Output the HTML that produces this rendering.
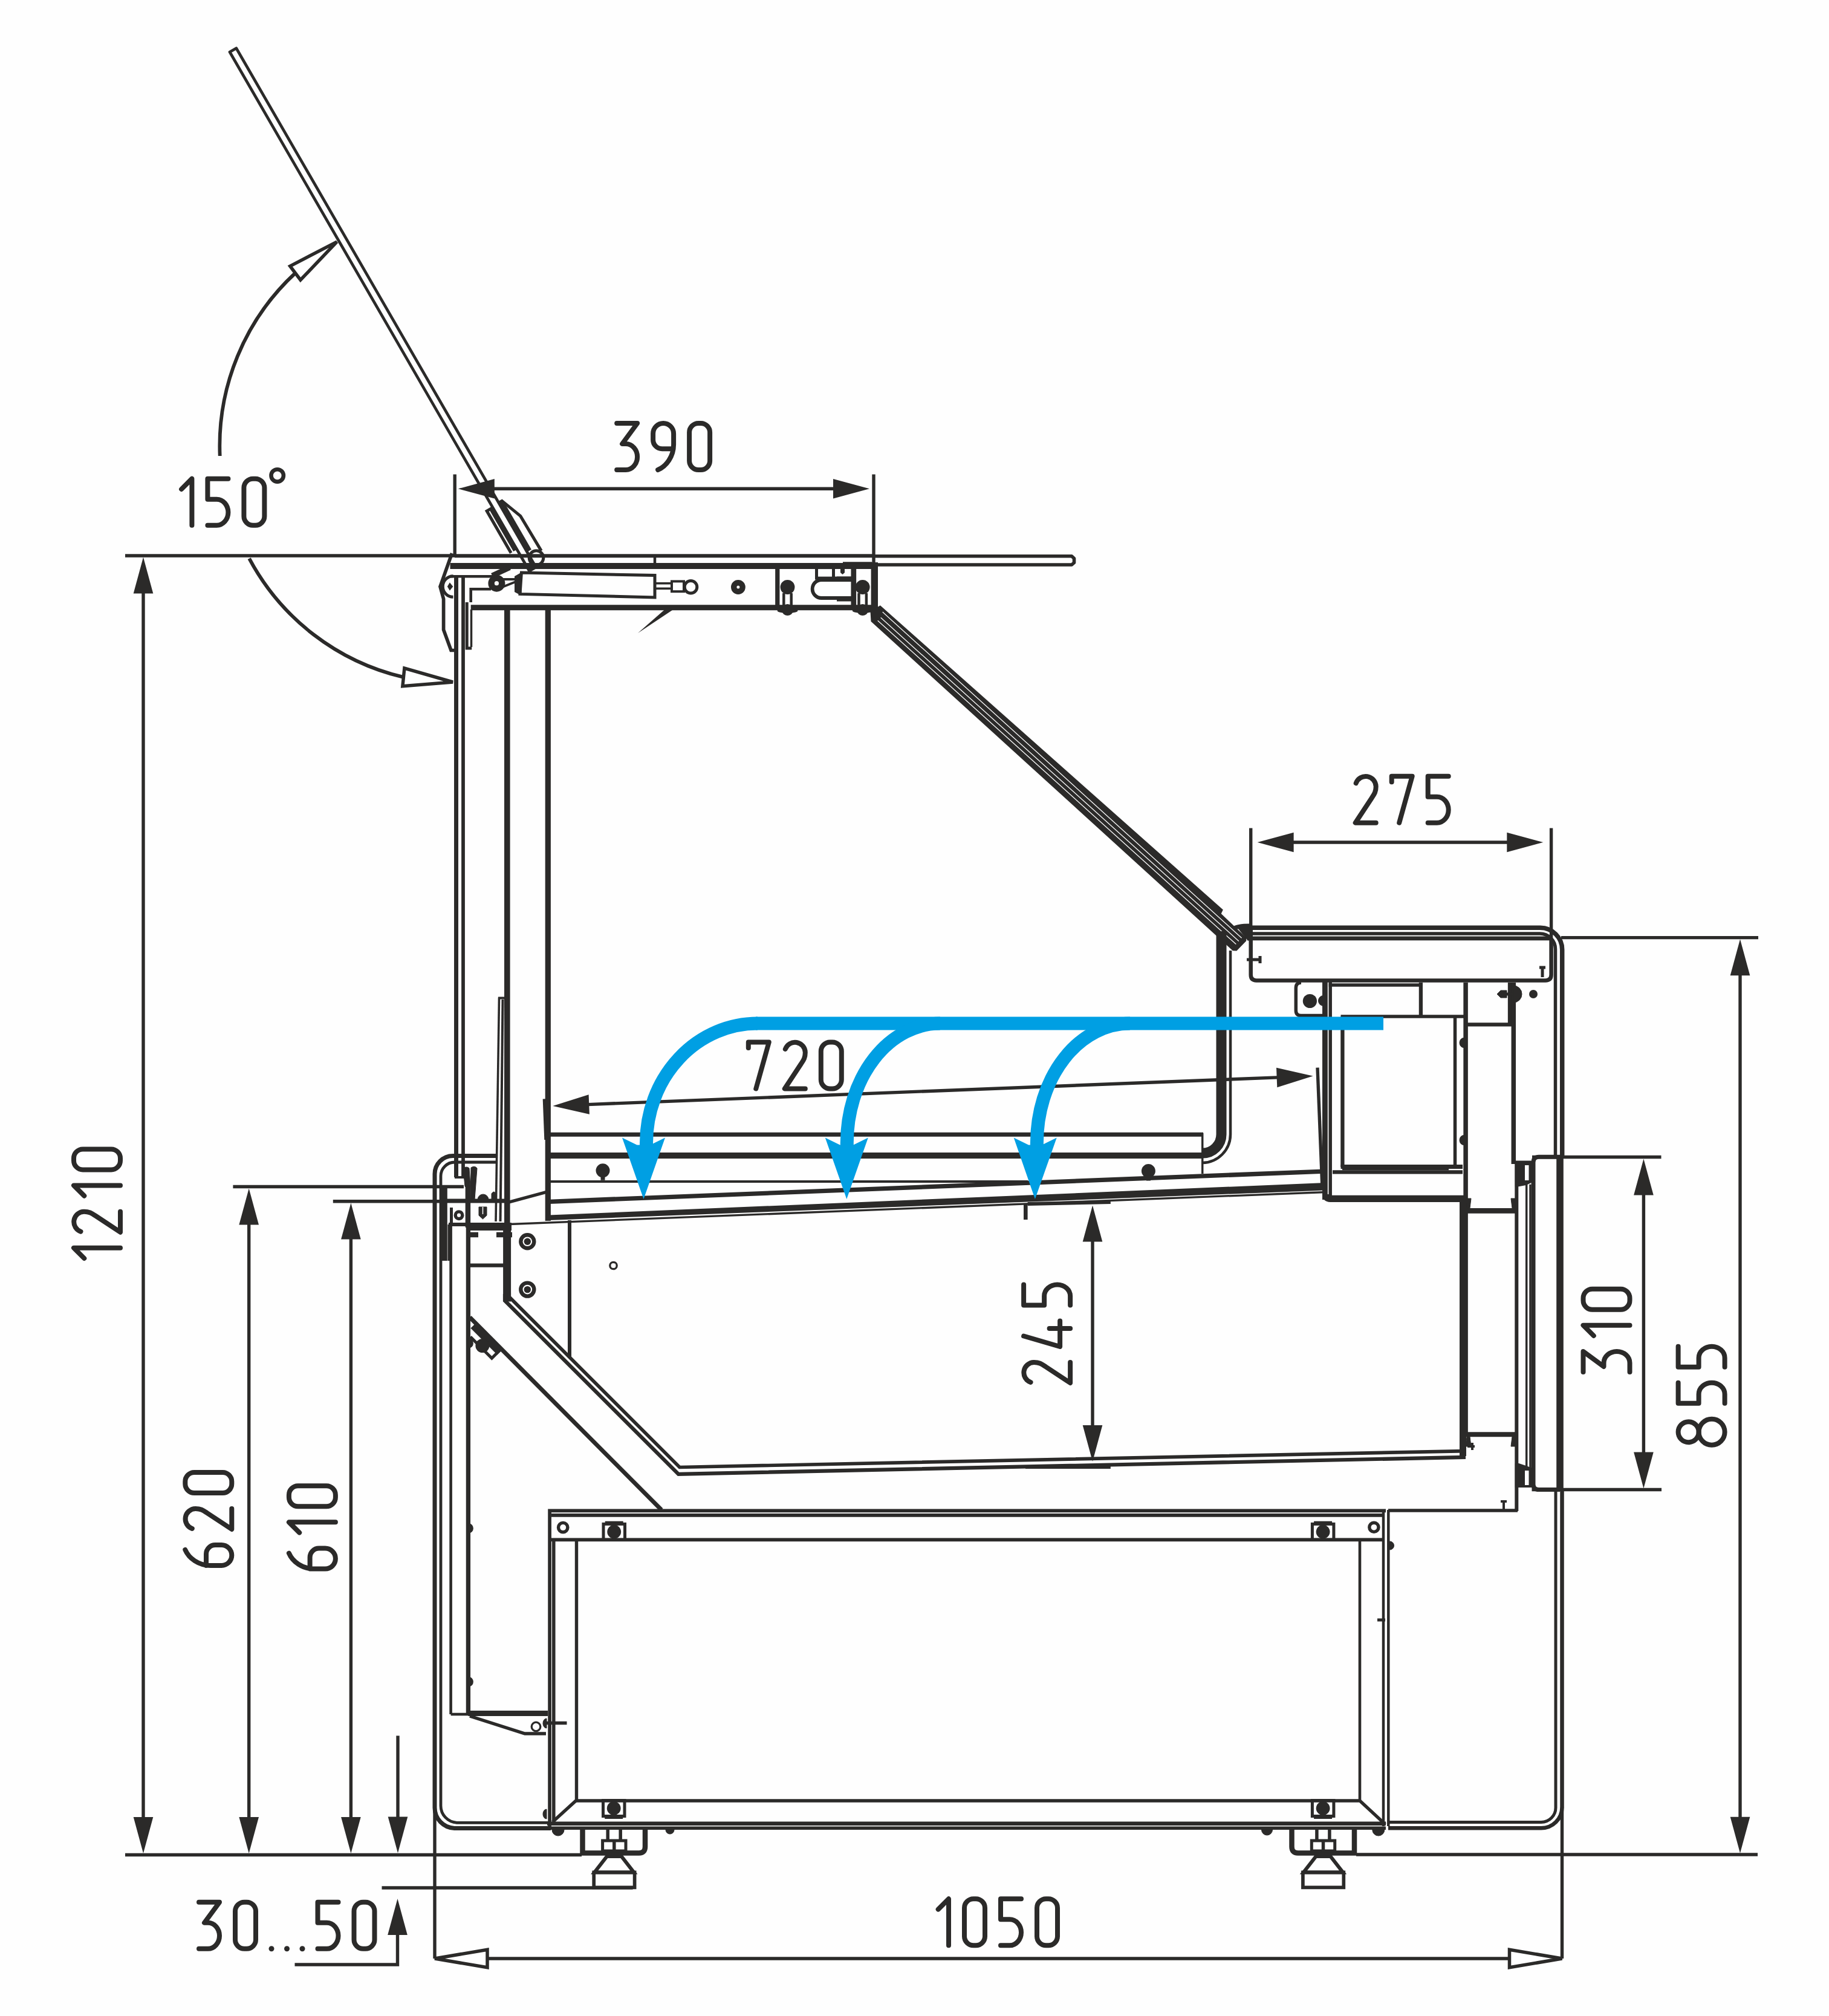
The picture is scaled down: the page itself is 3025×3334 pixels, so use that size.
<!DOCTYPE html>
<html><head><meta charset="utf-8"><title>Section</title>
<style>html,body{margin:0;padding:0;background:#fff;font-family:"Liberation Sans",sans-serif}svg{display:block}</style>
</head><body>
<svg width="3025" height="3334" viewBox="0 0 3025 3334">
<rect x="0" y="0" width="3025" height="3334" fill="#fefefe"/>
<line x1="207" y1="919" x2="752" y2="919" stroke="#2b2a29" stroke-width="5.4" stroke-linecap="butt"/>
<line x1="237" y1="975" x2="237" y2="3010" stroke="#2b2a29" stroke-width="5.4" stroke-linecap="butt"/>
<polygon points="237.0,921.5 253.3,981.5 220.7,981.5" fill="#2b2a29" stroke="#2b2a29" stroke-width="0" stroke-linejoin="miter"/>
<polygon points="237.0,3065.0 220.7,3005.0 253.3,3005.0" fill="#2b2a29" stroke="#2b2a29" stroke-width="0" stroke-linejoin="miter"/>
<g transform="translate(122 2081) rotate(-90)" fill="none" stroke="#2b2a29" stroke-width="8" stroke-linecap="round" stroke-linejoin="round">
<g transform="translate(0.0 0)"><path d="M0 17.3 L17.3 0 V77"/></g>
<g transform="translate(43.3 0)"><path d="M1 11.5 A17 17 0 0 1 34 17 C34 26 31 30 27 36 L0 77 H34"/></g>
<g transform="translate(103.3 0)"><path d="M0 17.3 L17.3 0 V77"/></g>
<g transform="translate(146.6 0)"><rect x="0" y="0" width="34" height="77" rx="15" ry="15"/></g>
</g>
<line x1="207" y1="3067.5" x2="962" y2="3067.5" stroke="#2b2a29" stroke-width="5.4" stroke-linecap="butt"/>
<line x1="2243" y1="3067" x2="2907" y2="3067" stroke="#2b2a29" stroke-width="5.4" stroke-linecap="butt"/>
<line x1="385.4" y1="1962.5" x2="767" y2="1962.5" stroke="#2b2a29" stroke-width="5.4" stroke-linecap="butt"/>
<line x1="411.7" y1="2020" x2="411.7" y2="3010" stroke="#2b2a29" stroke-width="5.4" stroke-linecap="butt"/>
<polygon points="411.7,1965.4 428.0,2025.4 395.4,2025.4" fill="#2b2a29" stroke="#2b2a29" stroke-width="0" stroke-linejoin="miter"/>
<polygon points="411.7,3065.0 395.4,3005.0 428.0,3005.0" fill="#2b2a29" stroke="#2b2a29" stroke-width="0" stroke-linejoin="miter"/>
<g transform="translate(306.3 2589) rotate(-90)" fill="none" stroke="#2b2a29" stroke-width="8" stroke-linecap="round" stroke-linejoin="round">
<g transform="translate(0.0 0)"><path d="M26 0 C12 6 0 22 0 42 V60 A17 17 0 0 0 34 60 V50 A15 15 0 0 0 19 34.7 H0"/></g>
<g transform="translate(60.0 0)"><path d="M1 11.5 A17 17 0 0 1 34 17 C34 26 31 30 27 36 L0 77 H34"/></g>
<g transform="translate(120.0 0)"><rect x="0" y="0" width="34" height="77" rx="15" ry="15"/></g>
</g>
<line x1="550.8" y1="1986.7" x2="730" y2="1986.7" stroke="#2b2a29" stroke-width="5.4" stroke-linecap="butt"/>
<line x1="580.4" y1="2045" x2="580.4" y2="3010" stroke="#2b2a29" stroke-width="5.4" stroke-linecap="butt"/>
<polygon points="580.4,1989.6 596.7,2049.6 564.1,2049.6" fill="#2b2a29" stroke="#2b2a29" stroke-width="0" stroke-linejoin="miter"/>
<polygon points="580.4,3065.0 564.1,3005.0 596.7,3005.0" fill="#2b2a29" stroke="#2b2a29" stroke-width="0" stroke-linejoin="miter"/>
<g transform="translate(477.9 2594.6) rotate(-90)" fill="none" stroke="#2b2a29" stroke-width="8" stroke-linecap="round" stroke-linejoin="round">
<g transform="translate(0.0 0)"><path d="M26 0 C12 6 0 22 0 42 V60 A17 17 0 0 0 34 60 V50 A15 15 0 0 0 19 34.7 H0"/></g>
<g transform="translate(60.0 0)"><path d="M0 17.3 L17.3 0 V77"/></g>
<g transform="translate(103.3 0)"><rect x="0" y="0" width="34" height="77" rx="15" ry="15"/></g>
</g>
<line x1="658" y1="2870.4" x2="658" y2="3010" stroke="#2b2a29" stroke-width="5.4" stroke-linecap="butt"/>
<polygon points="658.0,3064.5 641.7,3004.5 674.3,3004.5" fill="#2b2a29" stroke="#2b2a29" stroke-width="0" stroke-linejoin="miter"/>
<line x1="631.5" y1="3122" x2="1046.6" y2="3122" stroke="#2b2a29" stroke-width="5.4" stroke-linecap="butt"/>
<polygon points="657.5,3140.0 673.8,3200.0 641.2,3200.0" fill="#2b2a29" stroke="#2b2a29" stroke-width="0" stroke-linejoin="miter"/>
<path d="M657.5 3195 V3249 H487.5" stroke="#2b2a29" stroke-width="5.4" fill="none" stroke-linejoin="miter" stroke-linecap="butt"/>
<g transform="translate(329 3145.8) rotate(0)" fill="none" stroke="#2b2a29" stroke-width="8" stroke-linecap="round" stroke-linejoin="round">
<g transform="translate(0.0 0)"><path d="M0 0 H34 L9 34 H15 A19 21.5 0 0 1 15 77 H0"/></g>
<g transform="translate(60.0 0)"><rect x="0" y="0" width="34" height="77" rx="15" ry="15"/></g>
<circle cx="120.0" cy="77" r="4.5" fill="#2b2a29" stroke="none"/>
<circle cx="145.5" cy="77" r="4.5" fill="#2b2a29" stroke="none"/>
<circle cx="171.0" cy="77" r="4.5" fill="#2b2a29" stroke="none"/>
<g transform="translate(196.5 0)"><path d="M34 0 H0 V34 H15 A19 21.5 0 0 1 15 77 H0"/></g>
<g transform="translate(256.5 0)"><rect x="0" y="0" width="34" height="77" rx="15" ry="15"/></g>
</g>
<line x1="719" y1="2991" x2="719" y2="3239" stroke="#2b2a29" stroke-width="5.4" stroke-linecap="butt"/>
<line x1="2583.5" y1="2988" x2="2583.5" y2="3239" stroke="#2b2a29" stroke-width="5.4" stroke-linecap="butt"/>
<line x1="807" y1="3239" x2="2495" y2="3239" stroke="#2b2a29" stroke-width="5.4" stroke-linecap="butt"/>
<polygon points="719.0,3239.0 806.0,3224.2 806.0,3253.8" fill="#fff" stroke="#2b2a29" stroke-width="5.5" stroke-linejoin="miter"/>
<polygon points="2583.5,3239.0 2496.5,3253.8 2496.5,3224.2" fill="#fff" stroke="#2b2a29" stroke-width="5.5" stroke-linejoin="miter"/>
<g transform="translate(1551.7 3140.3) rotate(0)" fill="none" stroke="#2b2a29" stroke-width="8" stroke-linecap="round" stroke-linejoin="round">
<g transform="translate(0.0 0)"><path d="M0 17.3 L17.3 0 V77"/></g>
<g transform="translate(43.3 0)"><rect x="0" y="0" width="34" height="77" rx="15" ry="15"/></g>
<g transform="translate(103.3 0)"><path d="M34 0 H0 V34 H15 A19 21.5 0 0 1 15 77 H0"/></g>
<g transform="translate(163.3 0)"><rect x="0" y="0" width="34" height="77" rx="15" ry="15"/></g>
</g>
<line x1="2582" y1="1550.6" x2="2908" y2="1550.6" stroke="#2b2a29" stroke-width="5.4" stroke-linecap="butt"/>
<line x1="2878" y1="1610" x2="2878" y2="3008" stroke="#2b2a29" stroke-width="5.4" stroke-linecap="butt"/>
<polygon points="2878.0,1553.3 2894.3,1613.3 2861.7,1613.3" fill="#2b2a29" stroke="#2b2a29" stroke-width="0" stroke-linejoin="miter"/>
<polygon points="2878.0,3064.7 2861.7,3004.7 2894.3,3004.7" fill="#2b2a29" stroke="#2b2a29" stroke-width="0" stroke-linejoin="miter"/>
<g transform="translate(2775.6 2389.7) rotate(-90)" fill="none" stroke="#2b2a29" stroke-width="8" stroke-linecap="round" stroke-linejoin="round">
<g transform="translate(0.0 0)"><circle cx="21.5" cy="17" r="17"/><circle cx="21.5" cy="55.5" r="21.5"/></g>
<g transform="translate(69.0 0)"><path d="M34 0 H0 V34 H15 A19 21.5 0 0 1 15 77 H0"/></g>
<g transform="translate(129.0 0)"><path d="M34 0 H0 V34 H15 A19 21.5 0 0 1 15 77 H0"/></g>
</g>
<line x1="2534" y1="1913.5" x2="2747.5" y2="1913.5" stroke="#2b2a29" stroke-width="5.4" stroke-linecap="butt"/>
<line x1="2533.5" y1="2463.5" x2="2748" y2="2463.5" stroke="#2b2a29" stroke-width="5.4" stroke-linecap="butt"/>
<line x1="2718.4" y1="1972" x2="2718.4" y2="2405" stroke="#2b2a29" stroke-width="5.4" stroke-linecap="butt"/>
<polygon points="2718.4,1916.4 2734.7,1976.4 2702.1,1976.4" fill="#2b2a29" stroke="#2b2a29" stroke-width="0" stroke-linejoin="miter"/>
<polygon points="2718.4,2461.6 2702.1,2401.6 2734.7,2401.6" fill="#2b2a29" stroke="#2b2a29" stroke-width="0" stroke-linejoin="miter"/>
<g transform="translate(2618.5 2269) rotate(-90)" fill="none" stroke="#2b2a29" stroke-width="8" stroke-linecap="round" stroke-linejoin="round">
<g transform="translate(0.0 0)"><path d="M0 0 H34 L9 34 H15 A19 21.5 0 0 1 15 77 H0"/></g>
<g transform="translate(60.0 0)"><path d="M0 17.3 L17.3 0 V77"/></g>
<g transform="translate(103.3 0)"><rect x="0" y="0" width="34" height="77" rx="15" ry="15"/></g>
</g>
<line x1="2068.7" y1="1369.4" x2="2068.7" y2="1552" stroke="#2b2a29" stroke-width="5.4" stroke-linecap="butt"/>
<line x1="2565.6" y1="1369.4" x2="2565.6" y2="1552" stroke="#2b2a29" stroke-width="5.4" stroke-linecap="butt"/>
<line x1="2138" y1="1393" x2="2493" y2="1393" stroke="#2b2a29" stroke-width="5.4" stroke-linecap="butt"/>
<polygon points="2079.6,1393.0 2139.6,1376.7 2139.6,1409.3" fill="#2b2a29" stroke="#2b2a29" stroke-width="0" stroke-linejoin="miter"/>
<polygon points="2552.3,1393.0 2492.3,1409.3 2492.3,1376.7" fill="#2b2a29" stroke="#2b2a29" stroke-width="0" stroke-linejoin="miter"/>
<g transform="translate(2241.7 1283.7) rotate(0)" fill="none" stroke="#2b2a29" stroke-width="8" stroke-linecap="round" stroke-linejoin="round">
<g transform="translate(0.0 0)"><path d="M1 11.5 A17 17 0 0 1 34 17 C34 26 31 30 27 36 L0 77 H34"/></g>
<g transform="translate(60.0 0)"><path d="M0 9.5 V0 H34 L12.5 77"/></g>
<g transform="translate(120.0 0)"><path d="M34 0 H0 V34 H15 A19 21.5 0 0 1 15 77 H0"/></g>
</g>
<line x1="752.2" y1="784.4" x2="752.2" y2="919" stroke="#2b2a29" stroke-width="5.4" stroke-linecap="butt"/>
<line x1="1445" y1="784.4" x2="1445" y2="934" stroke="#2b2a29" stroke-width="5.4" stroke-linecap="butt"/>
<line x1="816" y1="808.3" x2="1379" y2="808.3" stroke="#2b2a29" stroke-width="5.4" stroke-linecap="butt"/>
<polygon points="757.8,808.3 817.8,792.0 817.8,824.6" fill="#2b2a29" stroke="#2b2a29" stroke-width="0" stroke-linejoin="miter"/>
<polygon points="1438.0,808.3 1378.0,824.6 1378.0,792.0" fill="#2b2a29" stroke="#2b2a29" stroke-width="0" stroke-linejoin="miter"/>
<g transform="translate(1020.1 700) rotate(0)" fill="none" stroke="#2b2a29" stroke-width="8" stroke-linecap="round" stroke-linejoin="round">
<g transform="translate(0.0 0)"><path d="M0 0 H34 L9 34 H15 A19 21.5 0 0 1 15 77 H0"/></g>
<g transform="translate(60.0 0)"><path d="M8 77 C22 71 34 55 34 35 V17 A17 17 0 0 0 0 17 V27 A15 15 0 0 0 15 42.3 H32"/></g>
<g transform="translate(120.0 0)"><rect x="0" y="0" width="34" height="77" rx="15" ry="15"/></g>
</g>
<line x1="972" y1="1826.6" x2="2113" y2="1781.9" stroke="#2b2a29" stroke-width="5.4" stroke-linecap="butt"/>
<polygon points="914.3,1828.9 973.6,1810.3 974.9,1842.8" fill="#2b2a29" stroke="#2b2a29" stroke-width="0" stroke-linejoin="miter"/>
<polygon points="2171.6,1779.6 2112.3,1798.2 2111.0,1765.7" fill="#2b2a29" stroke="#2b2a29" stroke-width="0" stroke-linejoin="miter"/>
<line x1="900.4" y1="1817.3" x2="903" y2="1885" stroke="#2b2a29" stroke-width="5.4" stroke-linecap="butt"/>
<line x1="2179" y1="1765.7" x2="2187" y2="1965" stroke="#2b2a29" stroke-width="5.4" stroke-linecap="butt"/>
<g transform="translate(1237.8 1723.5) rotate(0)" fill="none" stroke="#2b2a29" stroke-width="8" stroke-linecap="round" stroke-linejoin="round">
<g transform="translate(0.0 0)"><path d="M0 9.5 V0 H34 L12.5 77"/></g>
<g transform="translate(60.0 0)"><path d="M1 11.5 A17 17 0 0 1 34 17 C34 26 31 30 27 36 L0 77 H34"/></g>
<g transform="translate(120.0 0)"><rect x="0" y="0" width="34" height="77" rx="15" ry="15"/></g>
</g>
<line x1="1807" y1="2050" x2="1807" y2="2360" stroke="#2b2a29" stroke-width="5.4" stroke-linecap="butt"/>
<polygon points="1807.0,1993.5 1823.3,2053.5 1790.7,2053.5" fill="#2b2a29" stroke="#2b2a29" stroke-width="0" stroke-linejoin="miter"/>
<polygon points="1807.0,2417.0 1790.7,2357.0 1823.3,2357.0" fill="#2b2a29" stroke="#2b2a29" stroke-width="0" stroke-linejoin="miter"/>
<g transform="translate(1693.1 2287) rotate(-90)" fill="none" stroke="#2b2a29" stroke-width="8" stroke-linecap="round" stroke-linejoin="round">
<g transform="translate(0.0 0)"><path d="M1 11.5 A17 17 0 0 1 34 17 C34 26 31 30 27 36 L0 77 H34"/></g>
<g transform="translate(60.0 0)"><path d="M17.5 0 L0 60 H42.6 M30 42.5 V77"/></g>
<g transform="translate(128.6 0)"><path d="M34 0 H0 V34 H15 A19 21.5 0 0 1 15 77 H0"/></g>
</g>
<g transform="translate(300.1 791.7) rotate(0)" fill="none" stroke="#2b2a29" stroke-width="8" stroke-linecap="round" stroke-linejoin="round">
<g transform="translate(0.0 0)"><path d="M0 17.3 L17.3 0 V77"/></g>
<g transform="translate(43.3 0)"><path d="M34 0 H0 V34 H15 A19 21.5 0 0 1 15 77 H0"/></g>
<g transform="translate(103.3 0)"><rect x="0" y="0" width="34" height="77" rx="15" ry="15"/></g>
</g>
<circle cx="458.7" cy="786.4" r="10.2" stroke="#2b2a29" stroke-width="6.6" fill="none"/>
<path d="M488.5 451.5 A390 390 0 0 0 363.7 754" stroke="#2b2a29" stroke-width="5.8" fill="none" stroke-linejoin="miter" stroke-linecap="butt"/>
<polygon points="557.2,399.9 497.0,463.0 479.8,440.1" fill="#fff" stroke="#2b2a29" stroke-width="5.5" stroke-linejoin="miter"/>
<path d="M412.2 923.7 A390 390 0 0 0 667.4 1119.9" stroke="#2b2a29" stroke-width="5.8" fill="none" stroke-linejoin="miter" stroke-linecap="butt"/>
<polygon points="749.0,1128.0 665.9,1134.8 668.9,1105.0" fill="#fff" stroke="#2b2a29" stroke-width="5.5" stroke-linejoin="miter"/>
<path d="M380.0 86.0 L390.8 79.8 L886.3 938.0 L875.5 944.2 Z" stroke="#2b2a29" stroke-width="4.7" fill="none" stroke-linejoin="round" stroke-linecap="butt"/>
<path d="M814.6 839.7 L805.2 845.1 L845.2 914.4" stroke="#2b2a29" stroke-width="5" fill="none" stroke-linejoin="miter" stroke-linecap="butt"/>
<path d="M813.6 842.6 L852.6 910.1" stroke="#2b2a29" stroke-width="8" fill="none" stroke-linejoin="miter" stroke-linecap="butt"/>
<path d="M825.2 831.2 L830.2 828.4 L860.8 853.4 L895.2 910.9" stroke="#2b2a29" stroke-width="5" fill="none" stroke-linejoin="miter" stroke-linecap="butt"/>
<path d="M828.9 829.1 L875.9 910.5" stroke="#2b2a29" stroke-width="7" fill="none" stroke-linejoin="miter" stroke-linecap="butt"/>
<circle cx="887.0" cy="922.6" r="11.8" stroke="#2b2a29" stroke-width="5" fill="none"/>
<line x1="752" y1="919.2" x2="1447" y2="919.2" stroke="#2b2a29" stroke-width="6" stroke-linecap="butt"/>
<path d="M1444 919.8 H1772.5 L1776.5 923.5 V930.5 L1772.5 934 H1444" stroke="#2b2a29" stroke-width="5.6" fill="none" stroke-linejoin="round" stroke-linecap="butt"/>
<line x1="744.5" y1="936" x2="1443" y2="936" stroke="#2b2a29" stroke-width="10" stroke-linecap="butt"/>
<line x1="1083" y1="919" x2="1083" y2="936" stroke="#2b2a29" stroke-width="4.5" stroke-linecap="butt"/>
<line x1="746" y1="953.2" x2="815" y2="953.2" stroke="#2b2a29" stroke-width="4.6" stroke-linecap="butt"/>
<line x1="778.7" y1="1004.8" x2="1449" y2="1004.8" stroke="#2b2a29" stroke-width="9" stroke-linecap="butt"/>
<path d="M747.5 915 L728 970 L733.6 990.6 V1041.4 L746 1075.5 H756" stroke="#2b2a29" stroke-width="5.7" fill="none" stroke-linejoin="miter" stroke-linecap="butt"/>
<path d="M749.5 952.8 A17 17 0 0 0 749.5 987.2" stroke="#2b2a29" stroke-width="5" fill="none" stroke-linejoin="miter" stroke-linecap="butt"/>
<path d="M744 965 l4 5 l-4 5 l-3 -5 z" stroke="#2b2a29" stroke-width="2" fill="#2b2a29" stroke-linejoin="miter" stroke-linecap="butt"/>
<path d="M812 974.2 H778.7 V996" stroke="#2b2a29" stroke-width="4.6" fill="none" stroke-linejoin="miter" stroke-linecap="butt"/>
<path d="M772.2 996 V1072 l8 0" stroke="#2b2a29" stroke-width="5" fill="none" stroke-linejoin="miter" stroke-linecap="butt"/>
<line x1="779.5" y1="1008" x2="779.5" y2="1070" stroke="#2b2a29" stroke-width="3.5" stroke-linecap="butt"/>
<circle cx="821.4" cy="964.7" r="8.8" stroke="#2b2a29" stroke-width="10.4" fill="none"/>
<line x1="814" y1="952" x2="843" y2="938.5" stroke="#2b2a29" stroke-width="9" stroke-linecap="butt"/>
<path d="M828 958 L853 958 M828 972 L853 962" stroke="#2b2a29" stroke-width="4" fill="none" stroke-linejoin="miter" stroke-linecap="butt"/>
<polygon points="851.0,953.0 862.5,946.5 862.5,985.0 851.0,979.0" fill="#2b2a29" stroke="#2b2a29" stroke-width="0" stroke-linejoin="miter"/>
<path d="M862.4 947.1 L1083 951.5 V988 L860 982.4 Z" stroke="#2b2a29" stroke-width="5" fill="none" stroke-linejoin="miter" stroke-linecap="butt"/>
<rect x="1083" y="964.7" width="28" height="8.6" rx="0" stroke="#2b2a29" stroke-width="3.6" fill="none"/>
<rect x="1111" y="961.4" width="20" height="16.8" rx="0" stroke="#2b2a29" stroke-width="4" fill="none"/>
<circle cx="1142.5" cy="970.7" r="10.3" stroke="#2b2a29" stroke-width="5" fill="none"/>
<circle cx="1220.9" cy="971" r="7.2" stroke="#2b2a29" stroke-width="9.4" fill="none"/>
<line x1="1285.8" y1="936" x2="1285.8" y2="1005" stroke="#2b2a29" stroke-width="7.3" stroke-linecap="butt"/>
<line x1="1411.8" y1="936" x2="1411.8" y2="1003" stroke="#2b2a29" stroke-width="8.7" stroke-linecap="butt"/>
<line x1="1446.3" y1="930" x2="1446.3" y2="1009.5" stroke="#2b2a29" stroke-width="11.4" stroke-linecap="butt"/>
<line x1="1394" y1="931" x2="1442" y2="931" stroke="#2b2a29" stroke-width="3.5" stroke-linecap="butt"/>
<circle cx="1302.5" cy="971" r="11.9" stroke="#2b2a29" stroke-width="0" fill="#2b2a29"/>
<line x1="1296.3" y1="981" x2="1296.3" y2="1003" stroke="#2b2a29" stroke-width="4.5" stroke-linecap="butt"/>
<line x1="1308.7" y1="981" x2="1308.7" y2="1003" stroke="#2b2a29" stroke-width="4.5" stroke-linecap="butt"/>
<ellipse cx="1302.5" cy="1010" rx="17" ry="4" fill="#2b2a29"/>
<circle cx="1302.5" cy="1008.5" r="9.6" stroke="#2b2a29" stroke-width="0" fill="#2b2a29"/>
<circle cx="1426.7" cy="971" r="11.9" stroke="#2b2a29" stroke-width="0" fill="#2b2a29"/>
<line x1="1420.5" y1="981" x2="1420.5" y2="1003" stroke="#2b2a29" stroke-width="4.5" stroke-linecap="butt"/>
<line x1="1432.9" y1="981" x2="1432.9" y2="1003" stroke="#2b2a29" stroke-width="4.5" stroke-linecap="butt"/>
<ellipse cx="1426.7" cy="1010" rx="17" ry="4" fill="#2b2a29"/>
<circle cx="1426.7" cy="1008.5" r="9.6" stroke="#2b2a29" stroke-width="0" fill="#2b2a29"/>
<path d="M1408 959 H1358.6 A15 15 0 0 0 1358.6 989 H1408" stroke="#2b2a29" stroke-width="5.8" fill="none" stroke-linejoin="miter" stroke-linecap="butt"/>
<line x1="1384" y1="957.5" x2="1408" y2="957.5" stroke="#2b2a29" stroke-width="8" stroke-linecap="butt"/>
<line x1="1384" y1="990.5" x2="1408" y2="990.5" stroke="#2b2a29" stroke-width="8" stroke-linecap="butt"/>
<rect x="1350.5" y="938.6" width="28" height="17.5" rx="0" stroke="#2b2a29" stroke-width="5" fill="none"/>
<path d="M1381 956 H1408" stroke="#2b2a29" stroke-width="5" fill="none" stroke-linejoin="miter" stroke-linecap="butt"/>
<polygon points="1390.0,939.0 1397.0,939.0 1397.0,947.0 1393.5,950.0 1390.0,947.0" fill="#2b2a29" stroke="#2b2a29" stroke-width="0" stroke-linejoin="miter"/>
<line x1="754.5" y1="952" x2="754.5" y2="1947" stroke="#2b2a29" stroke-width="7" stroke-linecap="butt"/>
<line x1="766" y1="952" x2="766" y2="1947" stroke="#2b2a29" stroke-width="5.8" stroke-linecap="butt"/>
<line x1="752" y1="1947" x2="768" y2="1947" stroke="#2b2a29" stroke-width="4" stroke-linecap="butt"/>
<line x1="838.8" y1="1008" x2="838.8" y2="2025" stroke="#2b2a29" stroke-width="9.6" stroke-linecap="butt"/>
<line x1="906.3" y1="1008" x2="906.3" y2="2019" stroke="#2b2a29" stroke-width="9.2" stroke-linecap="butt"/>
<polygon points="1055.0,1047.0 1104.0,1004.0 1112.0,1009.0" fill="#2b2a29" stroke="#2b2a29" stroke-width="0" stroke-linejoin="miter"/>
<polygon points="1455.9,1001.3 2022.8,1504.5 2019.7,1511.0 2061.0,1550.4 2061.3,1556.0 2045.3,1572.6 2038.9,1572.2 1440.5,1027.7 1439.5,1010.8" fill="#2b2a29" stroke="#2b2a29" stroke-width="0" stroke-linejoin="miter"/>
<line x1="1459.7" y1="1012.1" x2="2053.6" y2="1551.2" stroke="#fff" stroke-width="1.3" stroke-linecap="butt"/>
<line x1="1453.8" y1="1018.8" x2="2048.9" y2="1556.4" stroke="#fff" stroke-width="1.3" stroke-linecap="butt"/>
<line x1="1449.1" y1="1024.0" x2="2044.3" y2="1561.6" stroke="#fff" stroke-width="1.3" stroke-linecap="butt"/>
<polygon points="1436.0,1005.0 1452.0,1005.0 1462.0,1016.0 1448.0,1030.0" fill="#2b2a29" stroke="#2b2a29" stroke-width="0" stroke-linejoin="miter"/>
<path d="M2040 1536 Q2046 1531 2068 1531" stroke="#2b2a29" stroke-width="7" fill="none" stroke-linejoin="miter" stroke-linecap="butt"/>
<polygon points="2044.0,1531.0 2070.0,1530.7 2070.0,1553.0 2064.0,1556.0" fill="#2b2a29" stroke="#2b2a29" stroke-width="0" stroke-linejoin="miter"/>
<path d="M2020 1540 V1876 A31 31 0 0 1 1989 1907" stroke="#2b2a29" stroke-width="17" fill="none" stroke-linejoin="miter" stroke-linecap="butt"/>
<path d="M2035 1572 V1876 A47 47 0 0 1 1988.7 1923" stroke="#2b2a29" stroke-width="4.5" fill="none" stroke-linejoin="miter" stroke-linecap="butt"/>
<path d="M2050 1534.2 H2547.4 A36.3 36.3 0 0 1 2583.7 1570.5 V1913" stroke="#2b2a29" stroke-width="7.5" fill="none" stroke-linejoin="miter" stroke-linecap="butt"/>
<path d="M2068 1544 H2547 A25.5 25.5 0 0 1 2572.5 1569.5 V1913" stroke="#2b2a29" stroke-width="5.5" fill="none" stroke-linejoin="miter" stroke-linecap="butt"/>
<line x1="2068" y1="1551.9" x2="2563" y2="1551.9" stroke="#2b2a29" stroke-width="6.8" stroke-linecap="butt"/>
<path d="M2068.7 1534 V1612 Q2068.7 1621.4 2078 1621.4 H2556 Q2565.6 1621.4 2565.6 1612 V1552" stroke="#2b2a29" stroke-width="6.5" fill="none" stroke-linejoin="miter" stroke-linecap="butt"/>
<path d="M2062 1587 h22 m0 -6 v12" stroke="#2b2a29" stroke-width="5" fill="none" stroke-linejoin="miter" stroke-linecap="butt"/>
<path d="M2551 1600 v16 m-5 -16 h10" stroke="#2b2a29" stroke-width="5" fill="none" stroke-linejoin="miter" stroke-linecap="butt"/>
<line x1="2197.7" y1="1628.9" x2="2347.4" y2="1628.9" stroke="#2b2a29" stroke-width="5.5" stroke-linecap="butt"/>
<path d="M2190 1679.6 H2152 Q2143.3 1679.6 2143.3 1671 V1634 Q2143.3 1625 2152 1625" stroke="#2b2a29" stroke-width="5.5" fill="none" stroke-linejoin="miter" stroke-linecap="butt"/>
<circle cx="2166.4" cy="1655.5" r="11.6" stroke="#2b2a29" stroke-width="0" fill="#2b2a29"/>
<path d="M2189 1646.5 A8.5 8.5 0 0 0 2189 1663.5 Z" stroke="#2b2a29" stroke-width="1" fill="#2b2a29" stroke-linejoin="miter" stroke-linecap="butt"/>
<line x1="2191.4" y1="1624" x2="2191.4" y2="1984" stroke="#2b2a29" stroke-width="8.8" stroke-linecap="butt"/>
<line x1="2200.2" y1="1624" x2="2200.2" y2="1984" stroke="#2b2a29" stroke-width="5.5" stroke-linecap="butt"/>
<line x1="2349.9" y1="1625" x2="2349.9" y2="1681" stroke="#2b2a29" stroke-width="6.3" stroke-linecap="butt"/>
<line x1="2217.5" y1="1681" x2="2421.6" y2="1681" stroke="#2b2a29" stroke-width="5.5" stroke-linecap="butt"/>
<line x1="2220.4" y1="1681" x2="2220.4" y2="1930" stroke="#2b2a29" stroke-width="6.3" stroke-linecap="butt"/>
<line x1="2406.5" y1="1681" x2="2406.5" y2="1930" stroke="#2b2a29" stroke-width="5.5" stroke-linecap="butt"/>
<line x1="2217.5" y1="1929.5" x2="2419" y2="1929.5" stroke="#2b2a29" stroke-width="7" stroke-linecap="butt"/>
<line x1="2220" y1="1934" x2="2396" y2="1934" stroke="#2b2a29" stroke-width="2.5" stroke-linecap="butt"/>
<line x1="2424.1" y1="1625" x2="2424.1" y2="2375" stroke="#2b2a29" stroke-width="7.5" stroke-linecap="butt"/>
<line x1="2424" y1="1694.3" x2="2500" y2="1694.3" stroke="#2b2a29" stroke-width="6.3" stroke-linecap="butt"/>
<line x1="2497" y1="1625" x2="2497" y2="1694" stroke="#2b2a29" stroke-width="6.3" stroke-linecap="butt"/>
<line x1="2503.3" y1="1625" x2="2503.3" y2="1925" stroke="#2b2a29" stroke-width="7.5" stroke-linecap="butt"/>
<line x1="2204" y1="1938.3" x2="2419" y2="1938.3" stroke="#2b2a29" stroke-width="6.3" stroke-linecap="butt"/>
<path d="M2421 1716.5 A7 8 0 0 0 2421 1732.5 Z" stroke="#2b2a29" stroke-width="1" fill="#2b2a29" stroke-linejoin="miter" stroke-linecap="butt"/>
<path d="M2421 1877.5 A7 8 0 0 0 2421 1893.5 Z" stroke="#2b2a29" stroke-width="1" fill="#2b2a29" stroke-linejoin="miter" stroke-linecap="butt"/>
<circle cx="2536" cy="1644" r="7" stroke="#2b2a29" stroke-width="0" fill="#2b2a29"/>
<path d="M2476 1644 l6 -6 h10 v4 h12 v4 h-12 v4 h-10 z" stroke="#2b2a29" stroke-width="1" fill="#2b2a29" stroke-linejoin="miter" stroke-linecap="butt"/>
<path d="M2503 1630 A14 14 0 0 1 2503 1658 Z" stroke="#2b2a29" stroke-width="1" fill="#2b2a29" stroke-linejoin="miter" stroke-linecap="butt"/>
<path d="M825.5 1649.6 L820 2020" stroke="#2b2a29" stroke-width="3.6" fill="none" stroke-linejoin="miter" stroke-linecap="butt"/>
<path d="M831.5 1653 L827.5 2020" stroke="#2b2a29" stroke-width="4" fill="none" stroke-linejoin="miter" stroke-linecap="butt"/>
<line x1="824" y1="1650.5" x2="836" y2="1650.5" stroke="#2b2a29" stroke-width="4" stroke-linecap="butt"/>
<line x1="906" y1="1876.2" x2="1990" y2="1876.2" stroke="#2b2a29" stroke-width="7" stroke-linecap="butt"/>
<line x1="906" y1="1911" x2="1990" y2="1911" stroke="#2b2a29" stroke-width="10" stroke-linecap="butt"/>
<line x1="906" y1="1954" x2="1700" y2="1954" stroke="#2b2a29" stroke-width="4" stroke-linecap="butt"/>
<line x1="1988.7" y1="1874" x2="1988.7" y2="1941" stroke="#2b2a29" stroke-width="3.5" stroke-linecap="butt"/>
<circle cx="997" cy="1935.8" r="11.5" stroke="#2b2a29" stroke-width="0" fill="#2b2a29"/>
<line x1="997" y1="1935.8" x2="997" y2="1951.8" stroke="#2b2a29" stroke-width="7" stroke-linecap="butt"/>
<circle cx="1899.4" cy="1936.6" r="11.5" stroke="#2b2a29" stroke-width="0" fill="#2b2a29"/>
<line x1="1899.4" y1="1936.6" x2="1899.4" y2="1952.6" stroke="#2b2a29" stroke-width="7" stroke-linecap="butt"/>
<line x1="908" y1="1987.3" x2="2184" y2="1937.3" stroke="#2b2a29" stroke-width="7.3" stroke-linecap="butt"/>
<polygon points="908.0,2009.5 2192.0,1956.0 2192.0,1968.5 908.0,2018.0" fill="#2b2a29" stroke="#2b2a29" stroke-width="0" stroke-linejoin="miter"/>
<line x1="843" y1="2024.5" x2="2192" y2="1971.5" stroke="#2b2a29" stroke-width="3.3" stroke-linecap="butt"/>
<line x1="942" y1="2018" x2="942" y2="2245" stroke="#2b2a29" stroke-width="6" stroke-linecap="butt"/>
<line x1="1696.3" y1="1992" x2="1696.3" y2="2017" stroke="#2b2a29" stroke-width="6.6" stroke-linecap="butt"/>
<line x1="1699.7" y1="1991" x2="1836.8" y2="1988" stroke="#2b2a29" stroke-width="6" stroke-linecap="butt"/>
<line x1="1696" y1="2426" x2="1836.8" y2="2426" stroke="#2b2a29" stroke-width="6" stroke-linecap="butt"/>
<path d="M2192.5 1975 Q2192.5 1982.3 2200 1982.3 H2424" stroke="#2b2a29" stroke-width="11.3" fill="none" stroke-linejoin="miter" stroke-linecap="butt"/>
<line x1="2419.5" y1="1982" x2="2419.5" y2="2408" stroke="#2b2a29" stroke-width="11" stroke-linecap="butt"/>
<path d="M820 1911.5 H749 A30 30 0 0 0 719 1941.5 V2989.5 A34 34 0 0 0 751.5 3023.5 H911" stroke="#2b2a29" stroke-width="7" fill="none" stroke-linejoin="miter" stroke-linecap="butt"/>
<path d="M820 1922 H752 A23 23 0 0 0 729 1945 V2986 A28 28 0 0 0 755.5 3014.3 H911" stroke="#2b2a29" stroke-width="4.8" fill="none" stroke-linejoin="miter" stroke-linecap="butt"/>
<path d="M2296 3023.3 H2549 A34.5 34.5 0 0 0 2583.5 2989 V2465" stroke="#2b2a29" stroke-width="6.5" fill="none" stroke-linejoin="miter" stroke-linecap="butt"/>
<path d="M2296 3013.5 H2549 A24 24 0 0 0 2573 2989 V2465" stroke="#2b2a29" stroke-width="5" fill="none" stroke-linejoin="miter" stroke-linecap="butt"/>
<line x1="745.6" y1="2027" x2="745.6" y2="2835" stroke="#2b2a29" stroke-width="4.6" stroke-linecap="butt"/>
<line x1="745.6" y1="2835" x2="776" y2="2835" stroke="#2b2a29" stroke-width="4.6" stroke-linecap="butt"/>
<line x1="774.4" y1="2030" x2="774.4" y2="2834" stroke="#2b2a29" stroke-width="7.3" stroke-linecap="butt"/>
<line x1="774.4" y1="2833.5" x2="906" y2="2833.5" stroke="#2b2a29" stroke-width="9" stroke-linecap="butt"/>
<path d="M777 2838 L868 2867 H903" stroke="#2b2a29" stroke-width="5.3" fill="none" stroke-linejoin="miter" stroke-linecap="butt"/>
<circle cx="886.5" cy="2855.5" r="7.3" stroke="#2b2a29" stroke-width="3.3" fill="none"/>
<line x1="904" y1="2849.5" x2="937.5" y2="2849.5" stroke="#2b2a29" stroke-width="5.3" stroke-linecap="butt"/>
<path d="M774.4 2520.5 A7 7 0 0 1 774.4 2534.5" stroke="#2b2a29" stroke-width="3" fill="#2b2a29" stroke-linejoin="miter" stroke-linecap="butt"/>
<path d="M774.4 2774.2 A7 7 0 0 1 774.4 2788.2" stroke="#2b2a29" stroke-width="3" fill="#2b2a29" stroke-linejoin="miter" stroke-linecap="butt"/>
<path d="M774.4 2214.4 A7 7 0 0 1 774.4 2228.4" stroke="#2b2a29" stroke-width="3" fill="#2b2a29" stroke-linejoin="miter" stroke-linecap="butt"/>
<path d="M838.6 2025 V2152.4" stroke="#2b2a29" stroke-width="13" fill="none" stroke-linejoin="miter" stroke-linecap="butt"/>
<path d="M835 2140 V2151 L1122.1 2437.9 L2424 2409.8" stroke="#2b2a29" stroke-width="6.2" fill="none" stroke-linejoin="miter" stroke-linecap="butt"/>
<path d="M842.2 2138 V2144.7 L1124 2426.5 L2424 2399.6" stroke="#2b2a29" stroke-width="5.7" fill="none" stroke-linejoin="miter" stroke-linecap="butt"/>
<line x1="777" y1="2178.5" x2="1094" y2="2497" stroke="#2b2a29" stroke-width="7" stroke-linecap="butt"/>
<circle cx="872.3" cy="2053.2" r="11" stroke="#2b2a29" stroke-width="6.4" fill="none"/>
<circle cx="872.3" cy="2053.2" r="5.7" stroke="#2b2a29" stroke-width="0" fill="#2b2a29"/>
<circle cx="872.3" cy="2132.6" r="11" stroke="#2b2a29" stroke-width="6.4" fill="none"/>
<circle cx="872.3" cy="2132.6" r="5.7" stroke="#2b2a29" stroke-width="0" fill="#2b2a29"/>
<circle cx="1014.5" cy="2093" r="5.7" stroke="#2b2a29" stroke-width="3.3" fill="none"/>
<path d="M778 2210.8 L813.4 2246.2 L829 2230.6" stroke="#2b2a29" stroke-width="5" fill="none" stroke-linejoin="miter" stroke-linecap="butt"/>
<line x1="783" y1="2192" x2="827" y2="2236" stroke="#2b2a29" stroke-width="13" stroke-linecap="butt"/>
<circle cx="797.9" cy="2225.5" r="11.5" stroke="#2b2a29" stroke-width="0" fill="#2b2a29"/>
<path d="M909.1 3021 V2498.4 H2292" stroke="#2b2a29" stroke-width="5.7" fill="none" stroke-linejoin="miter" stroke-linecap="butt"/>
<line x1="912" y1="2505.8" x2="2288" y2="2505.8" stroke="#2b2a29" stroke-width="5.7" stroke-linecap="butt"/>
<line x1="907" y1="2546.3" x2="2290" y2="2546.3" stroke="#2b2a29" stroke-width="5.7" stroke-linecap="butt"/>
<line x1="915.8" y1="2546" x2="915.8" y2="3016" stroke="#2b2a29" stroke-width="5.5" stroke-linecap="butt"/>
<path d="M953.5 2546 V2977 L914 3013" stroke="#2b2a29" stroke-width="5.4" fill="none" stroke-linejoin="miter" stroke-linecap="butt"/>
<path d="M953 2978 H2249 L2291 3017" stroke="#2b2a29" stroke-width="5.3" fill="none" stroke-linejoin="miter" stroke-linecap="butt"/>
<line x1="2249" y1="2546" x2="2249" y2="2978" stroke="#2b2a29" stroke-width="4.6" stroke-linecap="butt"/>
<line x1="2288" y1="2497" x2="2288" y2="3020" stroke="#2b2a29" stroke-width="4.5" stroke-linecap="butt"/>
<line x1="2296.3" y1="2497" x2="2296.3" y2="3020" stroke="#2b2a29" stroke-width="4.5" stroke-linecap="butt"/>
<line x1="905" y1="3015.7" x2="2292" y2="3015.7" stroke="#2b2a29" stroke-width="6.4" stroke-linecap="butt"/>
<line x1="905" y1="3023.2" x2="2292" y2="3023.2" stroke="#2b2a29" stroke-width="5.6" stroke-linecap="butt"/>
<circle cx="931.2" cy="2526.1" r="7.7" stroke="#2b2a29" stroke-width="5.4" fill="none"/>
<circle cx="2272.4" cy="2525.8" r="7.6" stroke="#2b2a29" stroke-width="5.4" fill="none"/>
<path d="M2298.5 2549 a7 7 0 0 1 0 14 z" stroke="#2b2a29" stroke-width="1" fill="#2b2a29" stroke-linejoin="miter" stroke-linecap="butt"/>
<line x1="2278" y1="2679" x2="2291" y2="2679" stroke="#2b2a29" stroke-width="5" stroke-linecap="butt"/>
<path d="M2427 2392 h12 m-4 -6 v12" stroke="#2b2a29" stroke-width="4" fill="none" stroke-linejoin="miter" stroke-linecap="butt"/>
<rect x="998.0" y="2520.3999999999996" width="35.5" height="26" rx="0" stroke="#2b2a29" stroke-width="5" fill="none"/>
<line x1="1000.7" y1="2517.7" x2="1030.7" y2="2517.7" stroke="#2b2a29" stroke-width="4" stroke-linecap="butt"/>
<circle cx="1015.7" cy="2533.2" r="11.4" stroke="#2b2a29" stroke-width="0" fill="#2b2a29"/>
<rect x="997.5" y="2977.5" width="35.5" height="26" rx="0" stroke="#2b2a29" stroke-width="5" fill="none"/>
<line x1="1000.2" y1="3006.0" x2="1030.2" y2="3006.0" stroke="#2b2a29" stroke-width="4" stroke-linecap="butt"/>
<circle cx="1015.2" cy="2990.5" r="11.4" stroke="#2b2a29" stroke-width="0" fill="#2b2a29"/>
<rect x="2170.4" y="2977.5" width="35.5" height="26" rx="0" stroke="#2b2a29" stroke-width="5" fill="none"/>
<line x1="2173.1" y1="3006.0" x2="2203.1" y2="3006.0" stroke="#2b2a29" stroke-width="4" stroke-linecap="butt"/>
<circle cx="2188.1" cy="2990.5" r="11.4" stroke="#2b2a29" stroke-width="0" fill="#2b2a29"/>
<rect x="2170.4" y="2520.3999999999996" width="35.5" height="26" rx="0" stroke="#2b2a29" stroke-width="5" fill="none"/>
<line x1="2173.1" y1="2517.7" x2="2203.1" y2="2517.7" stroke="#2b2a29" stroke-width="4" stroke-linecap="butt"/>
<circle cx="2188.1" cy="2533.2" r="11.4" stroke="#2b2a29" stroke-width="0" fill="#2b2a29"/>
<path d="M963.5 3026 V3064.4 H1057 Q1067 3064.4 1067 3054 V3026" stroke="#2b2a29" stroke-width="8.5" fill="none" stroke-linejoin="miter" stroke-linecap="butt"/>
<line x1="1005.1999999999999" y1="3021" x2="1005.1999999999999" y2="3046" stroke="#2b2a29" stroke-width="5.5" stroke-linecap="butt"/>
<line x1="1026.2" y1="3021" x2="1026.2" y2="3046" stroke="#2b2a29" stroke-width="5.5" stroke-linecap="butt"/>
<rect x="996.5999999999999" y="3044" width="38.4" height="17" rx="0" stroke="#2b2a29" stroke-width="5" fill="none"/>
<line x1="1015.8" y1="3044" x2="1015.8" y2="3062" stroke="#2b2a29" stroke-width="5.5" stroke-linecap="butt"/>
<path d="M1003.8 3070 H1027.8 L1048.3999999999999 3096.4 H983.1999999999999 Z" stroke="#2b2a29" stroke-width="6" fill="none" stroke-linejoin="miter" stroke-linecap="butt"/>
<rect x="982.1999999999999" y="3096.4" width="67.4" height="25" rx="0" stroke="#2b2a29" stroke-width="5.7" fill="none"/>
<path d="M2136.5 3026 V3054 Q2136.5 3064.4 2146.5 3064.4 H2240 V3026" stroke="#2b2a29" stroke-width="8.5" fill="none" stroke-linejoin="miter" stroke-linecap="butt"/>
<line x1="2177.9" y1="3021" x2="2177.9" y2="3046" stroke="#2b2a29" stroke-width="5.5" stroke-linecap="butt"/>
<line x1="2198.9" y1="3021" x2="2198.9" y2="3046" stroke="#2b2a29" stroke-width="5.5" stroke-linecap="butt"/>
<rect x="2169.3" y="3044" width="38.4" height="17" rx="0" stroke="#2b2a29" stroke-width="5" fill="none"/>
<line x1="2188.5" y1="3044" x2="2188.5" y2="3062" stroke="#2b2a29" stroke-width="5.5" stroke-linecap="butt"/>
<path d="M2176.5 3070 H2200.5 L2221.1 3096.4 H2155.9 Z" stroke="#2b2a29" stroke-width="6" fill="none" stroke-linejoin="miter" stroke-linecap="butt"/>
<rect x="2154.9" y="3096.4" width="67.4" height="25" rx="0" stroke="#2b2a29" stroke-width="5.7" fill="none"/>
<path d="M913 3026 A10 10 0 0 0 933 3026 Z" stroke="#2b2a29" stroke-width="1" fill="#2b2a29" stroke-linejoin="miter" stroke-linecap="butt"/>
<path d="M1101 3026 A7 7 0 0 0 1115 3026 Z" stroke="#2b2a29" stroke-width="1" fill="#2b2a29" stroke-linejoin="miter" stroke-linecap="butt"/>
<path d="M2086.5 3026 A9 9 0 0 0 2104.5 3026 Z" stroke="#2b2a29" stroke-width="1" fill="#2b2a29" stroke-linejoin="miter" stroke-linecap="butt"/>
<path d="M2269.8 3026 A10 10 0 0 0 2289.8 3026 Z" stroke="#2b2a29" stroke-width="1" fill="#2b2a29" stroke-linejoin="miter" stroke-linecap="butt"/>
<path d="M904 2842 a6 8 0 0 0 0 16 Z" stroke="#2b2a29" stroke-width="1" fill="#2b2a29" stroke-linejoin="miter" stroke-linecap="butt"/>
<path d="M904 2992 a6 8 0 0 0 0 16 Z" stroke="#2b2a29" stroke-width="1" fill="#2b2a29" stroke-linejoin="miter" stroke-linecap="butt"/>
<path d="M2580 1913.3 H2545 Q2536 1913.3 2536 1922 V2455 Q2536 2463.5 2545 2463.5 H2580" stroke="#2b2a29" stroke-width="7" fill="none" stroke-linejoin="miter" stroke-linecap="butt"/>
<line x1="2580" y1="1913" x2="2580" y2="2464" stroke="#2b2a29" stroke-width="11.6" stroke-linecap="butt"/>
<line x1="2508.3" y1="1920" x2="2508.3" y2="2499" stroke="#2b2a29" stroke-width="6" stroke-linecap="butt"/>
<line x1="2524.7" y1="1958.8" x2="2524.7" y2="2428.5" stroke="#2b2a29" stroke-width="3.5" stroke-linecap="butt"/>
<line x1="2531" y1="1958.8" x2="2531" y2="2428.5" stroke="#2b2a29" stroke-width="3.5" stroke-linecap="butt"/>
<line x1="2424" y1="2002.4" x2="2508" y2="2002.4" stroke="#2b2a29" stroke-width="8.8" stroke-linecap="butt"/>
<line x1="2424" y1="2372.3" x2="2508" y2="2372.3" stroke="#2b2a29" stroke-width="8" stroke-linecap="butt"/>
<polygon points="2505.8,1919.4 2534.8,1919.4 2534.8,1955.0 2524.0,1960.0 2512.0,1962.2 2505.8,1962.2" fill="#2b2a29" stroke="#2b2a29" stroke-width="0" stroke-linejoin="miter"/>
<rect x="2522" y="1927" width="6.5" height="25" rx="0" stroke="#2b2a29" stroke-width="0" fill="#fff"/>
<polygon points="2505.8,2420.0 2512.0,2420.0 2524.0,2424.0 2534.8,2428.0 2534.8,2460.0 2505.8,2460.0" fill="#2b2a29" stroke="#2b2a29" stroke-width="0" stroke-linejoin="miter"/>
<rect x="2522" y="2432" width="6.5" height="24" rx="0" stroke="#2b2a29" stroke-width="0" fill="#fff"/>
<path d="M2424 1982 h9 l-2 16 h-5 z" stroke="#2b2a29" stroke-width="1" fill="#2b2a29" stroke-linejoin="miter" stroke-linecap="butt"/>
<path d="M2424 2392 h9 l-2 -16 h-5 z" stroke="#2b2a29" stroke-width="1" fill="#2b2a29" stroke-linejoin="miter" stroke-linecap="butt"/>
<path d="M2499 1982 h9 l-2 16 h-5 z" stroke="#2b2a29" stroke-width="1" fill="#2b2a29" stroke-linejoin="miter" stroke-linecap="butt"/>
<path d="M2499 2392 h9 l-2 -16 h-5 z" stroke="#2b2a29" stroke-width="1" fill="#2b2a29" stroke-linejoin="miter" stroke-linecap="butt"/>
<path d="M2487 2483 v14 m-5 -14 h10" stroke="#2b2a29" stroke-width="4" fill="none" stroke-linejoin="miter" stroke-linecap="butt"/>
<line x1="2296" y1="2498" x2="2510" y2="2498" stroke="#2b2a29" stroke-width="5.5" stroke-linecap="butt"/>
<line x1="734.8" y1="1962" x2="734.8" y2="2085" stroke="#2b2a29" stroke-width="10" stroke-linecap="butt"/>
<line x1="728" y1="1986" x2="842" y2="1986" stroke="#2b2a29" stroke-width="7" stroke-linecap="butt"/>
<line x1="742" y1="2025" x2="845" y2="2025" stroke="#2b2a29" stroke-width="6" stroke-linecap="butt"/>
<line x1="746.5" y1="1997" x2="746.5" y2="2025" stroke="#2b2a29" stroke-width="5" stroke-linecap="butt"/>
<circle cx="759" cy="2009.7" r="5.8" stroke="#2b2a29" stroke-width="5.4" fill="none"/>
<line x1="771" y1="2028.5" x2="846" y2="2028.5" stroke="#2b2a29" stroke-width="12.8" stroke-linecap="butt"/>
<line x1="773.9" y1="1962" x2="773.9" y2="2030" stroke="#2b2a29" stroke-width="8.5" stroke-linecap="butt"/>
<path d="M766 1932 q6 -4 10 0 l2 30 q-4 6 -9 0 z" stroke="#2b2a29" stroke-width="1" fill="#2b2a29" stroke-linejoin="miter" stroke-linecap="butt"/>
<path d="M779 1931 q6 -4 10 1 l-4 52 h-7 z" stroke="#2b2a29" stroke-width="1" fill="#2b2a29" stroke-linejoin="miter" stroke-linecap="butt"/>
<path d="M790 1984 a9 9 0 0 1 18 0 z" stroke="#2b2a29" stroke-width="1" fill="#2b2a29" stroke-linejoin="miter" stroke-linecap="butt"/>
<path d="M792 1996 h13 v14 l-6.5 6 l-6.5 -6 z" stroke="#2b2a29" stroke-width="1" fill="#2b2a29" stroke-linejoin="miter" stroke-linecap="butt"/>
<line x1="798.5" y1="1996" x2="798.5" y2="2008" stroke="#fff" stroke-width="1.5" stroke-linecap="butt"/>
<line x1="771" y1="2042" x2="791" y2="2042" stroke="#2b2a29" stroke-width="8.5" stroke-linecap="butt"/>
<line x1="821" y1="2042" x2="847" y2="2042" stroke="#2b2a29" stroke-width="8.5" stroke-linecap="butt"/>
<line x1="778" y1="2092.6" x2="834" y2="2092.6" stroke="#2b2a29" stroke-width="6.4" stroke-linecap="butt"/>
<line x1="842" y1="1988" x2="905" y2="1971" stroke="#2b2a29" stroke-width="5" stroke-linecap="butt"/>
<path d="M813 1974 q4 -6 7 0 v12 h-7 z" stroke="#2b2a29" stroke-width="1" fill="#2b2a29" stroke-linejoin="miter" stroke-linecap="butt"/>
<line x1="742.6" y1="2025" x2="742.6" y2="2085" stroke="#2b2a29" stroke-width="4.3" stroke-linecap="butt"/>
<line x1="1250" y1="1692.6" x2="2288" y2="1692.6" stroke="#009fe3" stroke-width="22" stroke-linecap="butt"/>
<path d="M1253 1692.6 A184 197.4 0 0 0 1069 1890 V1897" stroke="#009fe3" stroke-width="22" fill="none" stroke-linejoin="miter" stroke-linecap="butt"/>
<path d="M1554.8 1692.6 A154 197.4 0 0 0 1400.8 1890 V1897" stroke="#009fe3" stroke-width="22" fill="none" stroke-linejoin="miter" stroke-linecap="butt"/>
<path d="M1868.9 1692.6 A154 197.4 0 0 0 1714.9 1890 V1897" stroke="#009fe3" stroke-width="22" fill="none" stroke-linejoin="miter" stroke-linecap="butt"/>
<polygon points="1064.5,1983.0 1100.0,1881.5 1075.5,1893.5 1053.5,1893.5 1029.0,1881.5" fill="#009fe3" stroke="#2b2a29" stroke-width="0" stroke-linejoin="miter"/>
<polygon points="1400.3,1983.0 1435.8,1881.5 1411.3,1893.5 1389.3,1893.5 1364.8,1881.5" fill="#009fe3" stroke="#2b2a29" stroke-width="0" stroke-linejoin="miter"/>
<polygon points="1711.9,1983.0 1747.7,1881.5 1723.2,1893.5 1701.2,1893.5 1676.7,1881.5" fill="#009fe3" stroke="#2b2a29" stroke-width="0" stroke-linejoin="miter"/>
</svg>
</body></html>
